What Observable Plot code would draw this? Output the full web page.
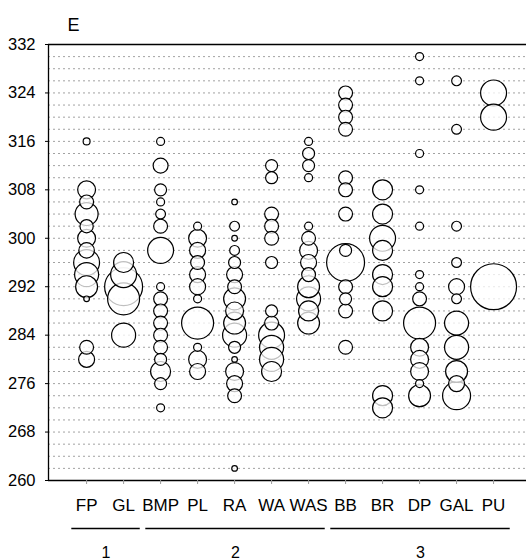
<!DOCTYPE html>
<html><head><meta charset="utf-8">
<script src="https://cdn.jsdelivr.net/npm/d3@7"></script>
<script src="https://cdn.jsdelivr.net/npm/@observablehq/plot@0.6"></script>
<style>body{margin:0;background:#fff;} svg{display:block;}</style>
</head><body><div id="chart"></div>
<script>
const title = "E";
const categories = ["FP","GL","BMP","PL","RA","WA","WAS","BB","BR","DP","GAL","PU"];
const yTicks = [260,268,276,284,292,300,308,316,324,332];
const gridLevels = [262,264,266,268,270,272,274,276,278,280,282,284,286,288,290,292,294,296,298,300,302,304,306,308,310,312,314,316,318,320,322,324,326,328,330];

// each entry: [value, count]
const FP  = [[316,3],[308,20],[306,12],[304,33],[302,11],[300,20],[298,15],[296,42],[294,36],[292,30],[290,2],[282,12],[280,16]];
const GL  = [[296,25],[294,42],[292,90],[290,64],[284,36]];
const BMP = [[316,4],[312,14],[308,9],[306,4],[304,6],[302,12],[298,42],[292,4],[290,12],[288,12],[286,12],[284,12],[282,12],[280,9],[278,25],[276,9],[272,4]];
const PL  = [[302,4],[300,20],[298,16],[296,12],[294,16],[292,16],[290,4],[286,64],[282,4],[280,20],[278,16]];
const RA  = [[306,2],[302,6],[300,2],[298,6],[296,9],[294,16],[292,12],[290,30],[288,20],[286,30],[284,36],[282,9],[280,2],[278,20],[276,16],[274,12],[262,2]];
const WA  = [[312,9],[310,9],[304,12],[302,12],[300,12],[296,9],[288,9],[286,12],[284,42],[282,36],[280,36],[278,25]];
const WAS = [[316,4],[314,9],[312,9],[310,4],[302,4],[300,12],[298,20],[296,16],[294,12],[292,30],[290,36],[288,25],[286,30]];
const BB  = [[324,12],[322,12],[320,12],[318,12],[310,12],[308,12],[304,12],[298,9],[296,90],[292,12],[290,9],[288,12],[282,12]];
const BR  = [[308,25],[304,25],[300,42],[298,25],[294,25],[292,25],[288,25],[274,25],[272,25]];
const DP  = [[330,4],[326,4],[314,4],[308,4],[302,4],[294,4],[292,4],[290,12],[286,64],[282,20],[280,20],[278,20],[276,4],[274,30]];
const GAL = [[326,6],[318,6],[302,6],[296,6],[292,16],[290,6],[286,36],[282,36],[278,30],[276,16],[274,49]];
const PU  = [[324,42],[320,42],[292,132]];

const groupLabels = ["1","2","3"];
const groupFirst = ["FP","BMP","BB"];
const groupLast = ["GL","WAS","PU"];

const seriesByCat = {FP, GL, BMP, PL, RA, WA, WAS, BB, BR, DP, GAL, PU};
const idx = c => categories.indexOf(c);
const bubbles = categories.flatMap(c => seriesByCat[c].map(([v, n]) => ({cat: c, i: idx(c), v, n})));
const groups = groupLabels.map((label, k) => ({label, x1: idx(groupFirst[k]) - 0.4, x2: idx(groupLast[k]) + 0.45}));
const xDomain = [-1.03, 11.89];
const yMin = yTicks[0], yMax = yTicks[yTicks.length - 1];

const chart = Plot.plot({
  width: 526, height: 560,
  marginLeft: 48, marginRight: 0, marginTop: 44, marginBottom: 80,
  x: {type: "linear", domain: xDomain, axis: null},
  y: {domain: [yMin, yMax], axis: null},
  r: {type: "sqrt", domain: [0, 121], range: [0, 22]},
  style: {fontFamily: "'Liberation Sans', Arial, sans-serif", fontSize: "16px", color: "black", background: "white"},
  marks: [
    Plot.ruleY(gridLevels, {stroke: "#8a8a8a", strokeWidth: 0.8, strokeDasharray: "2,3"}),
    Plot.ruleY([yMin, yMax], {stroke: "black", strokeWidth: 1.3}),
    Plot.ruleX([xDomain[0]], {y1: yMin, y2: yMax, stroke: "black", strokeWidth: 1.3}),
    Plot.axisY({ticks: yTicks, tickSize: 3, tickPadding: 10, label: null, fontSize: 16.5}),
    Plot.axisX({ticks: categories.map((c, i) => i), tickFormat: i => categories[i], tickSize: 4, tickPadding: 14, label: null, fontSize: 17, stroke: "#999"}),
    Plot.dot(bubbles, {x: "i", y: "v", r: "n", fill: "white", fillOpacity: 0.75, stroke: "black", strokeWidth: 1.2}),
    Plot.ruleY(groups, {y: () => yMin, x1: "x1", x2: "x2", dy: 48, stroke: "black", strokeWidth: 1.6}),
    Plot.text(groups, {y: () => yMin, x: d => (d.x1 + d.x2) / 2, dy: 72, text: "label", fontSize: 16}),
    Plot.text([title], {frameAnchor: "top-left", text: d => d, dx: 19, dy: -26, textAnchor: "start", fontSize: 18})
  ]
});
document.getElementById("chart").append(chart);
</script>
</body></html>
